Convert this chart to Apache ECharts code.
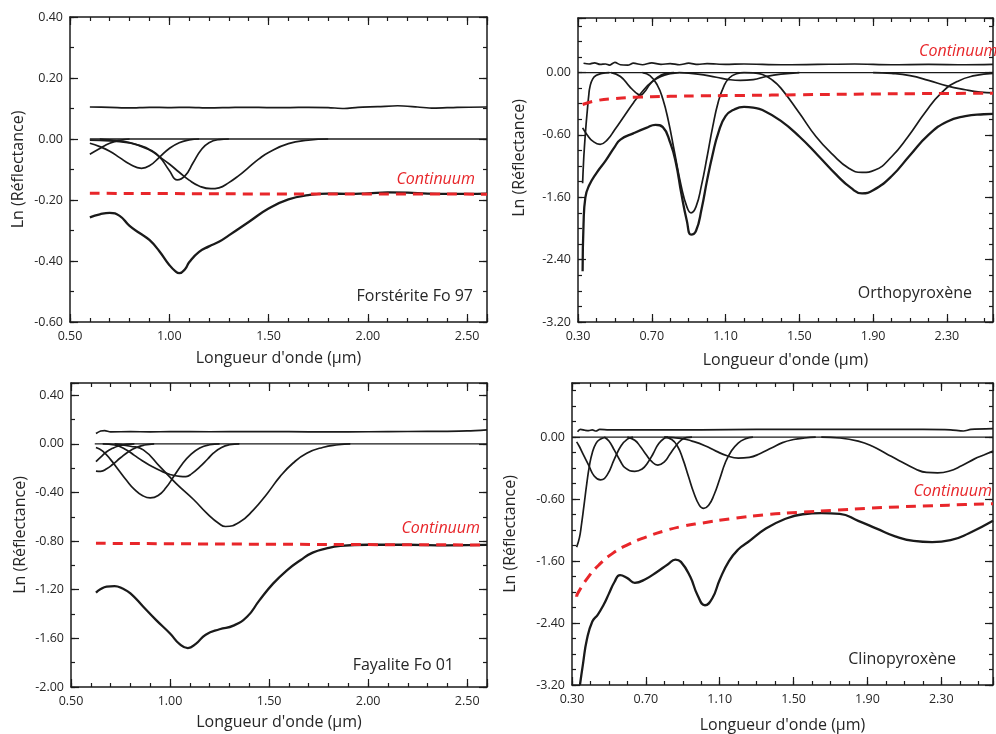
<!DOCTYPE html>
<html><head><meta charset="utf-8">
<script src="https://cdn.jsdelivr.net/npm/echarts@6/dist/echarts.min.js"></script>
<style>html,body{margin:0;padding:0;background:#fff}#c{width:996px;height:734px}</style>
</head><body><div id="c"></div>
<script>
// ---------- Tick labels ----------
const oliXTicks = [0.5, 1.0, 1.5, 2.0, 2.5];
const oliXLabels = ['0.50', '1.00', '1.50', '2.00', '2.50'];
const pyxXTicks = [0.3, 0.7, 1.1, 1.5, 1.9, 2.3];
const pyxXLabels = ['0.30', '0.70', '1.10', '1.50', '1.90', '2.30'];
const fo97YTicks = [-0.6, -0.4, -0.2, 0, 0.2, 0.4];
const fo97YLabels = ['-0.60', '-0.40', '-0.20', '0.00', '0.20', '0.40'];
const faYTicks = [-2.0, -1.6, -1.2, -0.8, -0.4, 0, 0.4];
const faYLabels = ['-2.00', '-1.60', '-1.20', '-0.80', '-0.40', '0.00', '0.40'];
const pyxYTicks = [-3.2, -2.4, -1.6, -0.8, 0];
const pyxYLabels = ['-3.20', '-2.40', '-1.60', '-0.60', '0.00'];

// ---------- Forstérite Fo 97 ----------
const fo97Spectrum = [[0.60,-0.257],[0.65,-0.247],[0.70,-0.242],[0.75,-0.252],[0.80,-0.285],[0.85,-0.308],[0.90,-0.331],[0.95,-0.368],[1.00,-0.413],[1.03,-0.433],[1.05,-0.440],[1.08,-0.426],[1.10,-0.404],[1.15,-0.370],[1.20,-0.352],[1.25,-0.337],[1.30,-0.316],[1.40,-0.272],[1.50,-0.228],[1.60,-0.198],[1.70,-0.184],[1.80,-0.179],[1.90,-0.180],[2.00,-0.178],[2.10,-0.175],[2.20,-0.176],[2.30,-0.179],[2.40,-0.180],[2.50,-0.180],[2.60,-0.179]];
const fo97Continuum = [[0.60,-0.178],[1.00,-0.179],[1.50,-0.180],[2.00,-0.180],[2.60,-0.181]];
const fo97Offset = [[0.60,0.105],[0.70,0.104],[0.80,0.102],[0.90,0.104],[1.00,0.103],[1.10,0.104],[1.20,0.102],[1.30,0.103],[1.40,0.104],[1.50,0.103],[1.60,0.103],[1.70,0.104],[1.80,0.103],[1.88,0.100],[1.95,0.104],[2.05,0.106],[2.15,0.109],[2.25,0.105],[2.33,0.101],[2.45,0.104],[2.60,0.105]];
const fo97Zero = [[0.60,0],[2.60,0]];
const fo97Band1 = [[0.60,-0.050],[0.65,-0.031],[0.70,-0.014],[0.75,-0.004],[0.80,0.000]];
const fo97Band2 = [[0.60,-0.014],[0.65,-0.025],[0.70,-0.040],[0.75,-0.061],[0.80,-0.082],[0.86,-0.096],[0.90,-0.088],[0.95,-0.060],[1.00,-0.031],[1.05,-0.012],[1.10,-0.003],[1.15,0.000]];
const fo97Band3 = [[0.60,-0.004],[0.70,-0.006],[0.80,-0.013],[0.85,-0.021],[0.90,-0.034],[0.95,-0.058],[1.00,-0.103],[1.04,-0.134],[1.08,-0.120],[1.12,-0.078],[1.16,-0.036],[1.20,-0.012],[1.25,-0.002],[1.30,0.000]];
const fo97Band4 = [[0.65,0.000],[0.70,-0.003],[0.80,-0.012],[0.90,-0.036],[0.95,-0.058],[1.00,-0.082],[1.05,-0.109],[1.10,-0.135],[1.15,-0.154],[1.21,-0.163],[1.25,-0.160],[1.30,-0.143],[1.35,-0.120],[1.40,-0.093],[1.45,-0.066],[1.50,-0.044],[1.60,-0.015],[1.70,-0.004],[1.80,0.000]];

// ---------- Orthopyroxène ----------
const opxSpectrum = [[0.325,-2.55],[0.33,-1.95],[0.34,-1.60],[0.36,-1.45],[0.40,-1.29],[0.45,-1.13],[0.50,-0.95],[0.53,-0.86],[0.60,-0.78],[0.67,-0.71],[0.72,-0.67],[0.76,-0.70],[0.80,-0.90],[0.83,-1.15],[0.86,-1.55],[0.89,-1.90],[0.913,-2.08],[0.94,-2.03],[0.97,-1.75],[1.00,-1.38],[1.03,-1.05],[1.06,-0.78],[1.10,-0.56],[1.15,-0.47],[1.20,-0.44],[1.25,-0.45],[1.30,-0.48],[1.40,-0.62],[1.50,-0.82],[1.60,-1.06],[1.70,-1.31],[1.78,-1.48],[1.84,-1.55],[1.90,-1.51],[2.00,-1.33],[2.10,-1.06],[2.20,-0.80],[2.30,-0.63],[2.40,-0.56],[2.50,-0.535],[2.55,-0.53]];
const opxContinuum = [[0.325,-0.41],[0.40,-0.36],[0.50,-0.333],[0.60,-0.318],[0.80,-0.305],[1.00,-0.298],[1.20,-0.293],[1.50,-0.285],[1.80,-0.277],[2.10,-0.271],[2.55,-0.265]];
const opxOffset = [[0.33,0.12],[0.36,0.11],[0.39,0.125],[0.42,0.105],[0.45,0.11],[0.47,0.095],[0.50,0.13],[0.53,0.10],[0.57,0.095],[0.60,0.12],[0.65,0.10],[0.70,0.125],[0.75,0.105],[0.80,0.115],[0.85,0.10],[0.90,0.12],[0.95,0.105],[1.00,0.115],[1.10,0.105],[1.20,0.11],[1.40,0.10],[1.60,0.105],[1.80,0.11],[2.00,0.10],[2.20,0.105],[2.40,0.10],[2.55,0.105]];
const opxZero = [[0.30,0],[2.55,0]];
const opxBand1 = [[0.325,-1.42],[0.33,-1.15],[0.335,-0.95],[0.343,-0.69],[0.35,-0.50],[0.358,-0.30],[0.365,-0.18],[0.38,-0.08],[0.40,-0.035],[0.43,-0.01],[0.47,0]];
const opxBand2 = [[0.325,-0.71],[0.35,-0.80],[0.38,-0.88],[0.42,-0.92],[0.46,-0.86],[0.50,-0.73],[0.55,-0.56],[0.60,-0.39],[0.65,-0.24],[0.70,-0.12],[0.75,-0.05],[0.80,-0.015],[0.85,0]];
const opxBand3 = [[0.48,0],[0.53,-0.05],[0.58,-0.18],[0.61,-0.25],[0.638,-0.29],[0.66,-0.25],[0.69,-0.15],[0.72,-0.08],[0.745,-0.04],[0.78,-0.01],[0.82,0]];
const opxBand4 = [[0.65,0],[0.69,-0.04],[0.73,-0.16],[0.76,-0.34],[0.79,-0.62],[0.82,-0.98],[0.86,-1.46],[0.89,-1.72],[0.913,-1.80],[0.94,-1.72],[0.97,-1.44],[1.00,-1.08],[1.03,-0.70],[1.06,-0.38],[1.09,-0.18],[1.12,-0.07],[1.16,-0.015],[1.20,0]];
const opxBand5 = [[0.85,0],[0.95,-0.02],[1.05,-0.06],[1.12,-0.09],[1.18,-0.10],[1.25,-0.09],[1.32,-0.05],[1.40,-0.02],[1.50,0]];
const opxBand6 = [[1.20,0],[1.25,-0.005],[1.30,-0.025],[1.35,-0.09],[1.40,-0.20],[1.50,-0.52],[1.59,-0.82],[1.68,-1.05],[1.77,-1.23],[1.84,-1.28],[1.91,-1.25],[2.00,-1.08],[2.09,-0.82],[2.18,-0.52],[2.27,-0.26],[2.36,-0.11],[2.45,-0.04],[2.55,-0.01]];
const opxBand7 = [[1.90,0],[2.00,-0.01],[2.10,-0.04],[2.20,-0.10],[2.30,-0.17],[2.40,-0.22],[2.48,-0.25],[2.55,-0.26]];

// ---------- Fayalite Fo 01 ----------
const faSpectrum = [[0.626,-1.224],[0.65,-1.195],[0.68,-1.175],[0.72,-1.170],[0.76,-1.19],[0.80,-1.23],[0.865,-1.34],[0.93,-1.45],[1.00,-1.56],[1.05,-1.65],[1.09,-1.68],[1.13,-1.645],[1.18,-1.57],[1.25,-1.525],[1.32,-1.495],[1.39,-1.42],[1.45,-1.29],[1.52,-1.15],[1.59,-1.04],[1.66,-0.955],[1.72,-0.895],[1.79,-0.86],[1.86,-0.84],[2.00,-0.83],[2.20,-0.83],[2.40,-0.835],[2.60,-0.832]];
const faContinuum = [[0.626,-0.818],[1.00,-0.822],[1.50,-0.826],[2.00,-0.829],[2.60,-0.832]];
const faOffset = [[0.626,0.085],[0.65,0.105],[0.67,0.108],[0.70,0.098],[0.80,0.100],[0.90,0.098],[1.00,0.100],[1.20,0.099],[1.40,0.101],[1.60,0.100],[1.80,0.098],[2.00,0.099],[2.20,0.101],[2.40,0.103],[2.50,0.106],[2.60,0.115]];
const faZero = [[0.62,0],[2.60,0]];
const faBand1 = [[0.626,-0.147],[0.65,-0.11],[0.68,-0.065],[0.71,-0.037],[0.74,-0.018],[0.78,-0.005],[0.82,0]];
const faBand2 = [[0.626,-0.224],[0.65,-0.226],[0.68,-0.205],[0.71,-0.17],[0.75,-0.115],[0.79,-0.065],[0.83,-0.03],[0.87,-0.01],[0.92,0]];
const faBand3 = [[0.626,-0.03],[0.66,-0.06],[0.70,-0.13],[0.74,-0.215],[0.78,-0.30],[0.82,-0.375],[0.86,-0.425],[0.90,-0.445],[0.94,-0.425],[0.98,-0.36],[1.02,-0.265],[1.06,-0.17],[1.10,-0.095],[1.15,-0.035],[1.20,-0.008],[1.25,0]];
const faBand4 = [[0.66,0],[0.72,-0.01],[0.78,-0.05],[0.82,-0.095],[0.86,-0.14],[0.90,-0.178],[0.95,-0.22],[1.00,-0.252],[1.05,-0.268],[1.08,-0.27],[1.11,-0.245],[1.15,-0.19],[1.19,-0.125],[1.22,-0.075],[1.26,-0.03],[1.30,-0.008],[1.35,0]];
const faBand5 = [[0.72,0],[0.80,-0.02],[0.865,-0.05],[0.95,-0.19],[1.03,-0.325],[1.12,-0.46],[1.185,-0.57],[1.25,-0.66],[1.28,-0.68],[1.35,-0.645],[1.42,-0.545],[1.49,-0.41],[1.555,-0.27],[1.62,-0.16],[1.69,-0.078],[1.77,-0.03],[1.85,-0.008],[1.91,0]];

// ---------- Clinopyroxène ----------
const cpxSpectrum = [[0.343,-3.2],[0.36,-2.92],[0.38,-2.62],[0.41,-2.38],[0.44,-2.29],[0.47,-2.17],[0.50,-2.02],[0.53,-1.87],[0.56,-1.78],[0.60,-1.82],[0.64,-1.88],[0.70,-1.83],[0.76,-1.74],[0.82,-1.64],[0.86,-1.58],[0.89,-1.61],[0.94,-1.80],[0.98,-2.04],[1.02,-2.17],[1.06,-2.08],[1.10,-1.84],[1.15,-1.60],[1.20,-1.45],[1.25,-1.36],[1.35,-1.18],[1.45,-1.06],[1.55,-0.995],[1.65,-0.98],[1.75,-0.99],[1.85,-1.08],[1.95,-1.18],[2.05,-1.28],[2.15,-1.34],[2.25,-1.355],[2.35,-1.33],[2.45,-1.24],[2.58,-1.08]];
const cpxContinuum = [[0.325,-2.06],[0.33,-2.02],[0.39,-1.80],[0.45,-1.64],[0.52,-1.50],[0.60,-1.39],[0.70,-1.29],[0.80,-1.21],[0.90,-1.15],[1.00,-1.11],[1.17,-1.05],[1.35,-1.00],[1.53,-0.97],[1.71,-0.945],[1.89,-0.92],[2.07,-0.90],[2.25,-0.885],[2.43,-0.87],[2.58,-0.86]];
const cpxOffset = [[0.33,0.07],[0.345,0.10],[0.37,0.09],[0.39,0.085],[0.41,0.095],[0.43,0.08],[0.45,0.10],[0.50,0.095],[0.70,0.095],[1.00,0.095],[1.30,0.10],[1.60,0.10],[1.90,0.10],[2.20,0.10],[2.35,0.095],[2.42,0.08],[2.46,0.10],[2.58,0.11]];
const cpxZero = [[0.30,0],[2.58,0]];
const cpxBand1 = [[0.325,-1.42],[0.34,-1.30],[0.35,-1.15],[0.365,-0.88],[0.38,-0.60],[0.395,-0.36],[0.41,-0.20],[0.43,-0.08],[0.45,-0.03],[0.48,0]];
const cpxBand2 = [[0.325,-0.06],[0.34,-0.12],[0.36,-0.22],[0.39,-0.36],[0.42,-0.50],[0.455,-0.55],[0.49,-0.49],[0.53,-0.28],[0.566,-0.11],[0.60,-0.025],[0.63,0]];
const cpxBand3 = [[0.476,0],[0.50,-0.05],[0.53,-0.17],[0.56,-0.30],[0.59,-0.40],[0.64,-0.44],[0.68,-0.41],[0.71,-0.33],[0.74,-0.21],[0.77,-0.08],[0.80,-0.015],[0.82,0]];
const cpxBand4 = [[0.60,0],[0.64,-0.04],[0.67,-0.12],[0.70,-0.22],[0.73,-0.31],[0.765,-0.36],[0.80,-0.32],[0.83,-0.22],[0.86,-0.12],[0.89,-0.04],[0.92,-0.005],[0.95,0]];
const cpxBand5 = [[0.80,0],[0.84,-0.03],[0.87,-0.11],[0.90,-0.28],[0.93,-0.50],[0.96,-0.72],[0.99,-0.88],[1.013,-0.92],[1.04,-0.88],[1.07,-0.74],[1.10,-0.54],[1.13,-0.33],[1.16,-0.19],[1.20,-0.075],[1.24,-0.02],[1.28,0]];
const cpxBand6 = [[0.80,0],[0.90,-0.02],[0.95,-0.05],[1.02,-0.11],[1.08,-0.18],[1.14,-0.24],[1.20,-0.27],[1.26,-0.26],[1.32,-0.21],[1.38,-0.14],[1.44,-0.07],[1.50,-0.03],[1.56,-0.01],[1.62,0]];
const cpxBand7 = [[1.65,0],[1.75,-0.01],[1.85,-0.05],[1.93,-0.12],[2.00,-0.21],[2.07,-0.30],[2.16,-0.41],[2.22,-0.455],[2.28,-0.46],[2.34,-0.44],[2.41,-0.37],[2.48,-0.28],[2.53,-0.23],[2.58,-0.18]];

// ---------- Build ----------
const FONT = '"Open Sans", "Noto Sans", sans-serif';
const INK = '#1a1a1a';
const TXT = '#262626';
const RED = '#e8262a';
const X_TITLE = "Longueur d'onde (\u00b5m)";
const Y_TITLE = 'Ln (R\u00e9flectance)';

function labeler(vals, labels) {
  return function (v) {
    for (let i = 0; i < vals.length; i++) if (Math.abs(v - vals[i]) < 1e-6) return labels[i];
    return '';
  };
}

const grids = [], xAxes = [], yAxes = [], series = [];

function addPanel(p) {
  const gi = grids.length;
  grids.push({ left: p.left, top: p.top, width: p.width, height: p.height });
  const xi = xAxes.length, yi = yAxes.length;
  const axLine = { show: true, onZero: false, lineStyle: { color: INK, width: 1.5 } };
  const noLine = { show: false, onZero: false };
  const tk = (len) => ({ show: true, inside: true, length: len, lineStyle: { color: INK, width: 1.2 } });
  const nameStyle = { color: TXT, fontSize: 16, fontFamily: FONT };
  const lab = (f) => ({ show: true, margin: 7, color: TXT, fontSize: 12.5, fontFamily: FONT, formatter: f });
  ['bottom', 'top'].forEach((pos, k) => {
    xAxes.push({ type: 'value', gridIndex: gi, position: pos, min: p.x.min, max: p.x.max, interval: p.x.minor,
      axisLine: axLine, axisTick: tk(4), splitLine: { show: false },
      axisLabel: k === 0 ? Object.assign(lab(labeler(p.x.ticks, p.x.labels)), { margin: 8 }) : { show: false },
      name: k === 0 ? X_TITLE : '', nameLocation: 'middle', nameGap: p.xGap, nameTextStyle: nameStyle });
    xAxes.push({ type: 'value', gridIndex: gi, position: pos, min: p.x.min, max: p.x.max, interval: p.x.major,
      axisLine: noLine, axisTick: tk(8), axisLabel: { show: false }, splitLine: { show: false } });
  });
  ['left', 'right'].forEach((pos, k) => {
    yAxes.push({ type: 'value', gridIndex: gi, position: pos, min: p.y.min, max: p.y.max, interval: p.y.minor,
      axisLine: axLine, axisTick: tk(4), splitLine: { show: false },
      axisLabel: k === 0 ? lab(labeler(p.y.ticks, p.y.labels)) : { show: false },
      name: k === 0 ? Y_TITLE : '', nameLocation: 'middle', nameGap: p.yGap,
      nameTextStyle: Object.assign({}, nameStyle, p.yPad ? { padding: p.yPad } : {}) });
    yAxes.push({ type: 'value', gridIndex: gi, position: pos, min: p.y.min, max: p.y.max, interval: p.y.major,
      axisLine: noLine, axisTick: tk(8), axisLabel: { show: false }, splitLine: { show: false } });
  });
  const base = { type: 'line', xAxisIndex: xi, yAxisIndex: yi, showSymbol: false, symbol: 'none',
    smooth: 0.5, silent: true, z: 3 };
  series.push(Object.assign({}, base, { data: p.zero, smooth: false, lineStyle: { color: INK, width: 1.3 } }));
  series.push(Object.assign({}, base, { data: p.offset, smooth: 0.3, lineStyle: { color: INK, width: 1.7 } }));
  p.bands.forEach(b => series.push(Object.assign({}, base, { data: b, lineStyle: { color: INK, width: 1.7 } })));
  series.push(Object.assign({}, base, { data: p.spectrum, lineStyle: { color: INK, width: 2.3 } }));
  series.push(Object.assign({}, base, { data: p.continuum, smooth: 0.5, z: 4,
    lineStyle: { color: RED, width: 3, type: [10, 7] } }));
}

addPanel({ left: 70, top: 17, width: 417, height: 305, xGap: 28, yGap: 44,
  x: { min: 0.5, max: 2.6, minor: 0.1, major: 0.5, ticks: oliXTicks, labels: oliXLabels },
  y: { min: -0.6, max: 0.4, minor: 0.1, major: 0.2, ticks: fo97YTicks, labels: fo97YLabels },
  zero: fo97Zero, offset: fo97Offset, bands: [fo97Band1, fo97Band2, fo97Band3, fo97Band4],
  spectrum: fo97Spectrum, continuum: fo97Continuum });
addPanel({ left: 578, top: 18, width: 417, height: 304, xGap: 30, yGap: 51, yPad: [0, 0, 0, 24],
  x: { min: 0.3, max: 2.55, minor: 0.1, major: 0.4, ticks: pyxXTicks, labels: pyxXLabels },
  y: { min: -3.2, max: 0.7, minor: 0.2, major: 0.8, ticks: pyxYTicks, labels: pyxYLabels },
  zero: opxZero, offset: opxOffset, bands: [opxBand1, opxBand2, opxBand3, opxBand4, opxBand5, opxBand6, opxBand7],
  spectrum: opxSpectrum, continuum: opxContinuum });
addPanel({ left: 71, top: 383, width: 416, height: 304, xGap: 27, yGap: 43,
  x: { min: 0.5, max: 2.6, minor: 0.1, major: 0.5, ticks: oliXTicks, labels: oliXLabels },
  y: { min: -2.0, max: 0.5, minor: 0.2, major: 0.4, ticks: faYTicks, labels: faYLabels },
  zero: faZero, offset: faOffset, bands: [faBand1, faBand2, faBand3, faBand4, faBand5],
  spectrum: faSpectrum, continuum: faContinuum });
addPanel({ left: 572, top: 383, width: 423, height: 304, xGap: 32, yGap: 54,
  x: { min: 0.3, max: 2.58, minor: 0.1, major: 0.4, ticks: pyxXTicks, labels: pyxXLabels },
  y: { min: -3.2, max: 0.7, minor: 0.2, major: 0.8, ticks: pyxYTicks, labels: pyxYLabels },
  zero: cpxZero, offset: cpxOffset, bands: [cpxBand1, cpxBand2, cpxBand3, cpxBand4, cpxBand5, cpxBand6, cpxBand7],
  spectrum: cpxSpectrum, continuum: cpxContinuum });

function txt(x, y, text, opt) {
  return { type: 'text', x: x, y: y, silent: true, z: 10,
    style: Object.assign({ text: text, fill: TXT, fontSize: 16, fontFamily: FONT,
      align: 'right', verticalAlign: 'middle' }, opt || {}) };
}
const cont = { fill: RED, fontStyle: 'italic' };
const graphics = [
  txt(473, 296, 'Forst\u00e9rite Fo 97'),
  txt(475, 179, 'Continuum', cont),
  txt(972, 293, 'Orthopyrox\u00e8ne'),
  txt(919, 51, 'Continuum', Object.assign({ align: 'left' }, cont)),
  txt(454, 665, 'Fayalite Fo 01'),
  txt(480, 528, 'Continuum', cont),
  txt(956, 659, 'Clinopyrox\u00e8ne'),
  txt(992, 491, 'Continuum', cont)
];

const chart = echarts.init(document.getElementById('c'), null, { renderer: 'canvas' });
chart.setOption({
  animation: false,
  backgroundColor: '#ffffff',
  grid: grids, xAxis: xAxes, yAxis: yAxes, series: series,
  graphic: graphics
});
</script></body></html>
